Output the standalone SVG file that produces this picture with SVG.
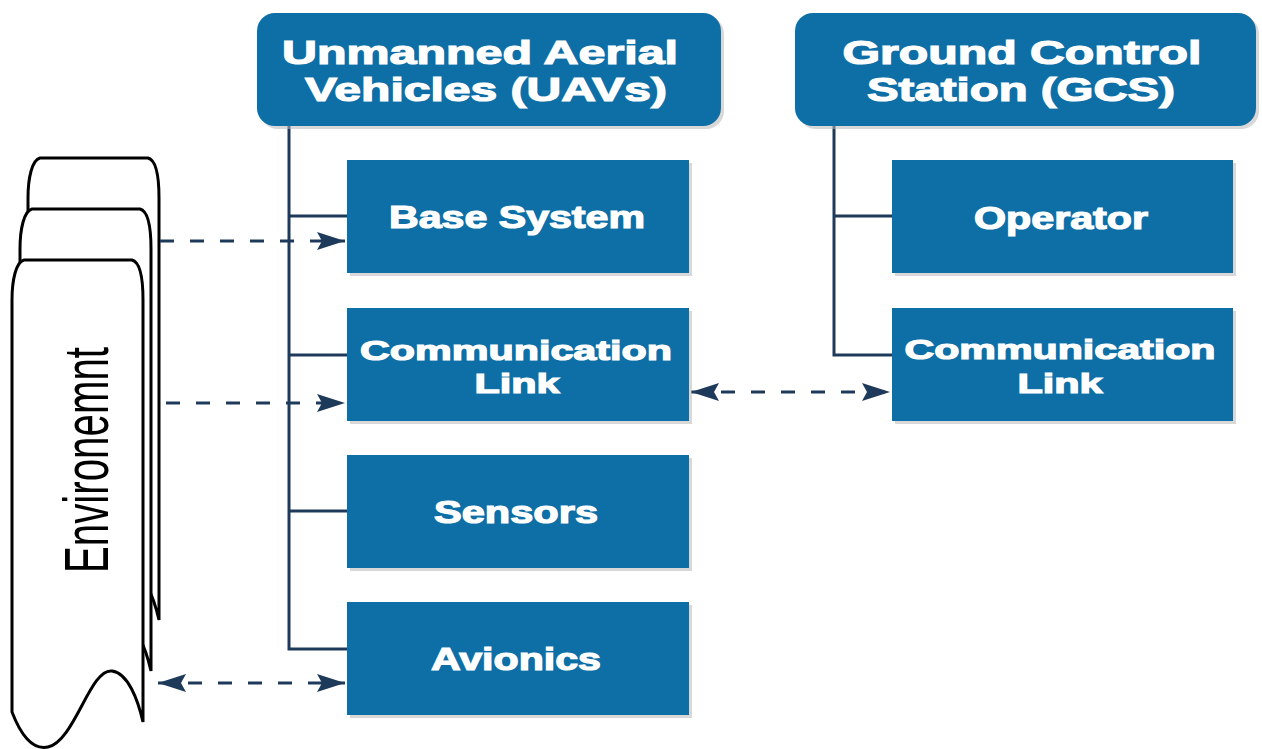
<svg xmlns="http://www.w3.org/2000/svg" width="1262" height="749" viewBox="0 0 1262 749">
<defs>
<style>
.box{fill:#0e6ea6;}
.shadow{fill:#b8b8b8;opacity:0.55;}
.lbl{fill:#ffffff;stroke:#ffffff;stroke-width:1.2;font-family:"Liberation Sans",Arial,sans-serif;font-weight:bold;font-size:31px;text-anchor:middle;}
.hdr{font-size:33px;}
.two{font-size:28px;}
.tree{fill:none;stroke:#1e3a5a;stroke-width:3;}
.dash{fill:none;stroke:#1e3a5a;stroke-width:3;stroke-dasharray:14 16;}
.doc{fill:#ffffff;stroke:#000000;stroke-width:3;}
.env{fill:#000000;font-family:"Liberation Sans",Arial,sans-serif;font-size:40px;}
</style>
<marker id="ah" viewBox="0 0 28 18" refX="28" refY="9" markerWidth="28" markerHeight="18" markerUnits="userSpaceOnUse" orient="auto-start-reverse">
<path d="M0,0 L28,9 L0,18 L5,9 Z" fill="#1e3a5a"/>
</marker>
<path id="docshape" d="M12,712 C22,738 34,750 48,747 C75,741 90,668 112,671 C128,673 138,700 143,722 L143,300 C143,276 140,262 132,260 L24,260 C16,262 12,280 12,300 Z"/>
</defs>

<g id="environment">
<use href="#docshape" class="doc" transform="translate(16,-102)"/>
<use href="#docshape" class="doc" transform="translate(8,-51)"/>
<use href="#docshape" class="doc"/>
<text class="env" transform="translate(108,573) rotate(-90) scale(1,1.57)" x="0" y="0" textLength="226" lengthAdjust="spacingAndGlyphs">Environemnt</text>
</g>

<g id="connectors">
<path class="tree" d="M289,126 L289,649 L347,649 M289,216 L347,216 M289,355 L347,355 M289,511 L347,511"/>
<path class="tree" d="M834,126 L834,355 L892,355 M834,216 L892,216"/>
<line class="dash" x1="160" y1="241" x2="345" y2="241" marker-end="url(#ah)"/>
<line class="dash" x1="166" y1="403" x2="345" y2="403" marker-end="url(#ah)"/>
<line class="dash" x1="158" y1="683" x2="345" y2="683" marker-start="url(#ah)" marker-end="url(#ah)"/>
<line class="dash" x1="691" y1="392" x2="890" y2="392" marker-start="url(#ah)" marker-end="url(#ah)"/>
</g>

<g id="uav">
<rect class="shadow" x="260" y="16" width="464" height="113" rx="18"/>
<rect class="box" x="257" y="13" width="464" height="113" rx="18"/>
<text class="lbl hdr" x="480" y="64" textLength="396" lengthAdjust="spacingAndGlyphs">Unmanned Aerial</text>
<text class="lbl hdr" x="486" y="101" textLength="362" lengthAdjust="spacingAndGlyphs">Vehicles (UAVs)</text>
</g>

<g id="gcs">
<rect class="shadow" x="798" y="16" width="461" height="113" rx="18"/>
<rect class="box" x="795" y="13" width="461" height="113" rx="18"/>
<text class="lbl hdr" x="1022" y="64" textLength="359" lengthAdjust="spacingAndGlyphs">Ground Control</text>
<text class="lbl hdr" x="1021" y="101" textLength="308" lengthAdjust="spacingAndGlyphs">Station (GCS)</text>
</g>

<g id="base-system">
<rect class="shadow" x="350" y="163" width="342" height="113"/>
<rect class="box" x="347" y="160" width="342" height="113"/>
<text class="lbl" x="517" y="228" textLength="256" lengthAdjust="spacingAndGlyphs">Base System</text>
</g>

<g id="uav-comm-link">
<rect class="shadow" x="350" y="311" width="342" height="113"/>
<rect class="box" x="347" y="308" width="342" height="113"/>
<text class="lbl two" x="516" y="360" textLength="312" lengthAdjust="spacingAndGlyphs">Communication</text>
<text class="lbl two" x="517" y="393" textLength="85" lengthAdjust="spacingAndGlyphs">Link</text>
</g>

<g id="sensors">
<rect class="shadow" x="350" y="458" width="342" height="113"/>
<rect class="box" x="347" y="455" width="342" height="113"/>
<text class="lbl" x="516" y="523" textLength="164" lengthAdjust="spacingAndGlyphs">Sensors</text>
</g>

<g id="avionics">
<rect class="shadow" x="350" y="605" width="342" height="113"/>
<rect class="box" x="347" y="602" width="342" height="113"/>
<text class="lbl" x="516" y="670" textLength="170" lengthAdjust="spacingAndGlyphs">Avionics</text>
</g>

<g id="operator">
<rect class="shadow" x="895" y="163" width="341" height="113"/>
<rect class="box" x="892" y="160" width="341" height="113"/>
<text class="lbl" x="1061" y="229" textLength="174" lengthAdjust="spacingAndGlyphs">Operator</text>
</g>

<g id="gcs-comm-link">
<rect class="shadow" x="895" y="311" width="341" height="113"/>
<rect class="box" x="892" y="308" width="341" height="113"/>
<text class="lbl two" x="1060" y="359" textLength="311" lengthAdjust="spacingAndGlyphs">Communication</text>
<text class="lbl two" x="1060" y="393" textLength="85" lengthAdjust="spacingAndGlyphs">Link</text>
</g>
</svg>
